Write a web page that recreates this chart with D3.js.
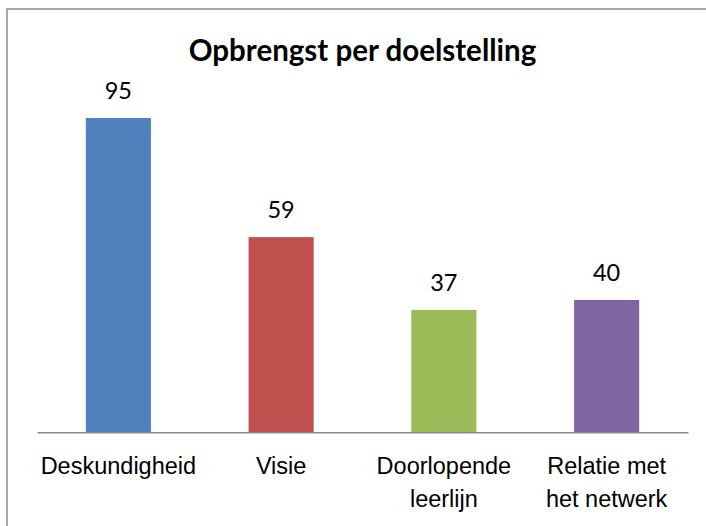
<!DOCTYPE html>
<html>
<head>
<meta charset="utf-8">
<script src="https://cdn.jsdelivr.net/npm/d3@7"></script>
<style>
  html, body { margin: 0; padding: 0; background: #fff; }
  svg { display: block; font-family: Lato, "Open Sans", sans-serif; }
</style>
</head>
<body>
<svg id="chart" width="706" height="526"></svg>
<script>
// Opbrengst per doelstelling
const categories = ["Deskundigheid", "Visie", "Doorlopende leerlijn", "Relatie met het netwerk"];
const categoryLines = [["Deskundigheid"], ["Visie"], ["Doorlopende", "leerlijn"], ["Relatie met", "het netwerk"]];
const values = [95, 59, 37, 40];
const colors = ["#4F81BD", "#C0504D", "#9BBB59", "#8064A2"];
const title = "Opbrengst per doelstelling";

const svg = d3.select("#chart");

// chart frame (right and bottom edges run past the canvas)
svg.append("rect")
  .attr("x", 7).attr("y", 9)
  .attr("width", 720).attr("height", 540)
  .attr("fill", "none")
  .attr("stroke", "#8c8c8c")
  .attr("stroke-width", 1.5);

const x = d3.scaleBand()
  .domain(categories)
  .range([37, 688])
  .paddingInner(0.6)
  .paddingOuter(0.3);

const y = d3.scaleLinear()
  .domain([0, 100])
  .range([432.3, 101.5]);

// title
svg.append("text")
  .attr("x", (37 + 688) / 2)
  .attr("y", 61)
  .attr("text-anchor", "middle")
  .attr("font-size", 29.5)
  .attr("font-weight", "bold")
  .attr("fill", "#000")
  .text(title);

// bars
svg.append("g").selectAll("rect")
  .data(values)
  .join("rect")
  .attr("x", (d, i) => x(categories[i]))
  .attr("y", d => y(d))
  .attr("width", x.bandwidth())
  .attr("height", d => y(0) - y(d))
  .attr("fill", (d, i) => colors[i]);

// value labels
svg.append("g").selectAll("text")
  .data(values)
  .join("text")
  .attr("x", (d, i) => x(categories[i]) + x.bandwidth() / 2)
  .attr("y", d => y(d) - 19)
  .attr("text-anchor", "middle")
  .attr("font-size", 23.5)
  .attr("fill", "#000")
  .text(d => d);

// category axis
const axis = svg.append("g")
  .attr("transform", `translate(0,${y(0)})`)
  .call(d3.axisBottom(x).tickSize(0).tickSizeOuter(0).tickFormat(""));

axis.select(".domain")
  .attr("stroke", "#888")
  .attr("stroke-width", 1.5);

axis.selectAll(".tick text").remove();
axis.selectAll(".tick").each(function(d, i) {
  const t = d3.select(this).append("text")
    .attr("text-anchor", "middle")
    .attr("font-size", 23.5)
    .attr("fill", "#000")
    .attr("y", 41.7);
  categoryLines[i].forEach((line, k) => {
    t.append("tspan")
      .attr("x", 0)
      .attr("dy", k === 0 ? 0 : 33)
      .text(line);
  });
});
</script>
</body>
</html>
